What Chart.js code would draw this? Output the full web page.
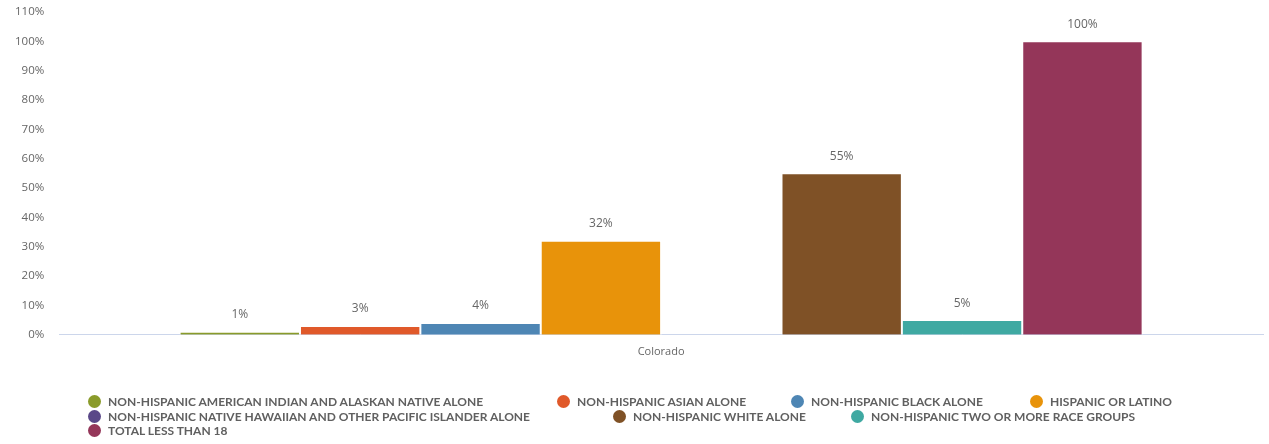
<!DOCTYPE html>
<html>
<head>
<meta charset="utf-8">
<script src="https://cdn.jsdelivr.net/npm/chart.js@4/dist/chart.umd.min.js"></script>
<style>
  html, body { margin: 0; padding: 0; background: #fff; overflow: hidden; }
  #wrap { position: relative; width: 1269px; height: 444px; overflow: hidden; }
  #chart-box { position: absolute; left: 0; top: -10px; width: 1269px; height: 378px; }
  #legend { position: absolute; left: 0; top: 0; width: 1269px; height: 444px; pointer-events: none; }
  .item { position: absolute; display: flex; align-items: center; height: 14px;
          font: bold 12px Lato, "Open Sans", sans-serif; color: #606060; white-space: nowrap; }
  .dot { width: 13px; height: 13px; border-radius: 50%; margin-right: 7px; }
</style>
</head>
<body>
<div id="wrap">
  <div id="chart-box"><canvas id="race-chart"></canvas></div>
  <div id="legend"></div>
</div>
<script>
// data
const categories = ['Colorado'];
const seriesNames = [
  'NON-HISPANIC AMERICAN INDIAN AND ALASKAN NATIVE ALONE',
  'NON-HISPANIC ASIAN ALONE',
  'NON-HISPANIC BLACK ALONE',
  'HISPANIC OR LATINO',
  'NON-HISPANIC NATIVE HAWAIIAN AND OTHER PACIFIC ISLANDER ALONE',
  'NON-HISPANIC WHITE ALONE',
  'NON-HISPANIC TWO OR MORE RACE GROUPS',
  'TOTAL LESS THAN 18'
];
const seriesValues = [1, 3, 4, 32, null, 55, 5, 100];
const yTicks = [0, 10, 20, 30, 40, 50, 60, 70, 80, 90, 100, 110];

const colors = ['#8a9b2a', '#e0592a', '#4e86b4', '#e8930a', '#5a4888', '#7f5126', '#3fa9a2', '#943659'];

// legend layout (left x of dot, row)
const legendPos = [
  [88, 0], [557, 0], [791, 0], [1030, 0],
  [88, 1], [613, 1], [851, 1],
  [88, 2]
];
const legendRowY = [394, 409, 423];

const legendEl = document.getElementById('legend');
seriesNames.forEach((name, i) => {
  const div = document.createElement('div');
  div.className = 'item';
  div.style.left = legendPos[i][0] + 'px';
  div.style.top = legendRowY[legendPos[i][1]] + 'px';
  div.innerHTML = '<span class="dot" style="background:' + colors[i] + '"></span>' + name;
  legendEl.appendChild(div);
});

const valueLabels = {
  id: 'valueLabels',
  afterDatasetsDraw(chart) {
    const ctx = chart.ctx;
    ctx.save();
    ctx.font = '12px "Open Sans", sans-serif';
    ctx.fillStyle = '#666';
    ctx.textAlign = 'center';
    ctx.textBaseline = 'middle';
    chart.data.datasets.forEach((ds, i) => {
      const meta = chart.getDatasetMeta(i);
      meta.data.forEach((bar, j) => {
        const v = ds.data[j];
        if (v === null || v === undefined) return;
        ctx.fillText(v + '%', bar.x, bar.y - 17);
      });
    });
    ctx.restore();
  }
};

const ctx = document.getElementById('race-chart').getContext('2d');
new Chart(ctx, {
  type: 'bar',
  data: {
    labels: categories,
    datasets: seriesNames.map((name, i) => ({
      label: name,
      data: [seriesValues[i]],
      backgroundColor: colors[i],
      borderColor: '#fff',
      borderWidth: 1,
      borderSkipped: 'bottom',
      categoryPercentage: 0.8,
      barPercentage: 1.0
    }))
  },
  options: {
    responsive: true,
    maintainAspectRatio: false,
    animation: false,
    layout: { padding: { top: 0, right: 6, left: 0, bottom: 0 } },
    plugins: {
      legend: { display: false },
      tooltip: { enabled: false }
    },
    scales: {
      x: {
        grid: { display: false, drawTicks: false },
        border: { display: true, color: '#ccd6eb' },
        ticks: { color: '#666', font: { size: 11, family: '"Open Sans", sans-serif' }, padding: 10 }
      },
      y: {
        min: 0,
        max: 110,
        afterBuildTicks(axis) { axis.ticks = yTicks.map(v => ({ value: v })); },
        grid: { display: false, drawTicks: false },
        border: { display: false },
        ticks: {
          color: '#666',
          font: { size: 11.5, family: '"Open Sans", sans-serif' },
          padding: 15,
          callback: v => v + '%'
        }
      }
    }
  },
  plugins: [valueLabels]
});
</script>
</body>
</html>
